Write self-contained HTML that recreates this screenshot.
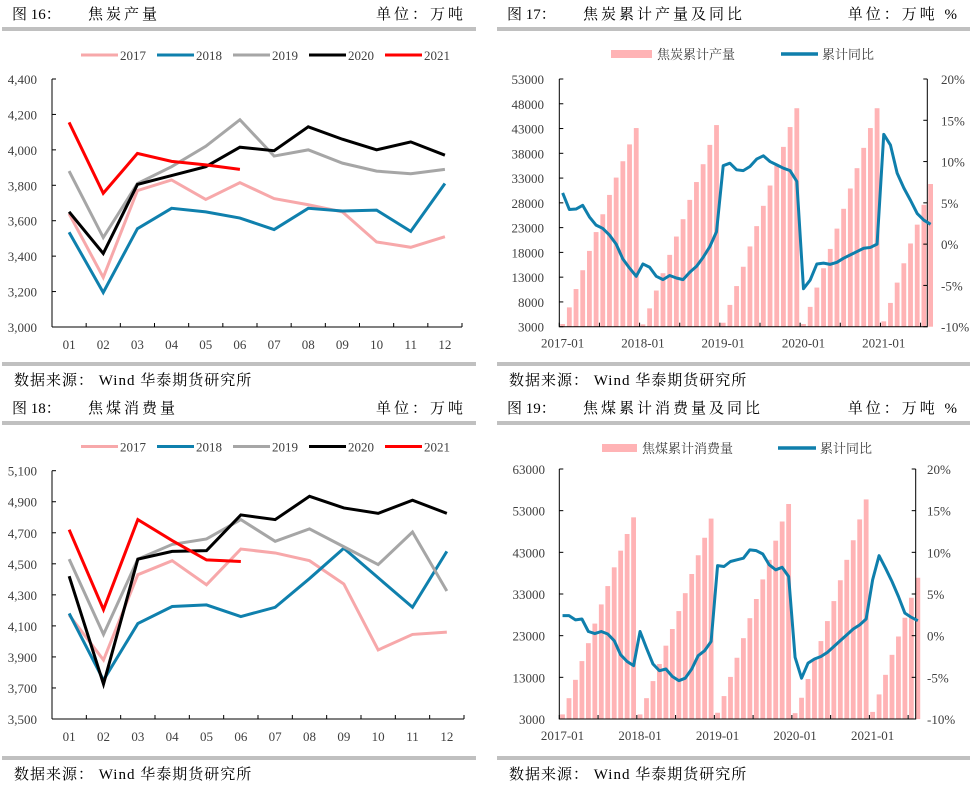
<!DOCTYPE html>
<html><head><meta charset="utf-8"><style>
html,body{margin:0;padding:0;background:#fff;}
svg{display:block;}
text{font-family:"Liberation Serif","Noto Serif CJK SC",serif;}
</style></head><body>
<svg id="s" width="976" height="787" viewBox="0 0 976 787" xmlns="http://www.w3.org/2000/svg"></svg>
<script>
// ===== Data =====
const months=["01","02","03","04","05","06","07","08","09","10","11","12"];
const years=["2017","2018","2019","2020","2021"];
const yearColors=["#f7a8aa","#0f80ad","#a6a6a6","#000000","#ff0000"];
// Chart 16 coke output
const coke2017=[3640,3280,3770,3830,3720,3815,3725,3690,3650,3480,3450,3510];
const coke2018=[3535,3195,3555,3670,3650,3615,3550,3670,3655,3660,3540,3810];
const coke2019=[3880,3505,3810,3905,4020,4170,3965,4000,3925,3880,3865,3890];
const coke2020=[3650,3415,3805,3855,3905,4015,3995,4130,4060,4000,4045,3970];
const coke2021=[4155,3755,3980,3935,3915,3890];
const cokeTicks=[3000,3200,3400,3600,3800,4000,4200,4400];
// Chart 18 coking coal consumption
const coal2017=[4170,3880,4430,4520,4365,4595,4570,4520,4370,3945,4045,4060];
const coal2018=[4180,3750,4115,4225,4235,4160,4220,4405,4600,4410,4220,4580];
const coal2019=[4530,4045,4530,4625,4660,4785,4645,4725,4610,4495,4705,4325];
const coal2020=[4420,3725,4530,4580,4585,4815,4785,4935,4860,4825,4910,4825];
const coal2021=[4720,4205,4785,4650,4525,4515];
const coalTicks=[3500,3700,3900,4100,4300,4500,4700,4900,5100];
// Chart 17 cumulative coke output & yoy
const cokeCum=[3540,6900,10600,14400,18300,22100,25700,29600,33100,36400,39800,43100,
3470,6700,10300,13800,17500,21200,24700,28600,32200,35800,39700,43700,
3800,7400,11200,15100,19200,23300,27400,31500,35500,39300,43300,47100,
3540,7000,10900,14800,18700,22800,26800,30900,35000,39100,43100,47100,
4080,7800,11900,15800,19800,23600,27600,31800];
const cokeYoy=[6.2,4.2,4.25,4.7,3.3,2.3,1.9,1.1,0.0,-1.8,-2.9,-3.9,
-2.4,-2.8,-3.9,-4.3,-3.8,-4.1,-4.3,-3.4,-2.7,-1.6,-0.3,1.5,
9.5,9.8,9.0,8.9,9.4,10.3,10.7,10.0,9.6,9.2,8.9,7.6,
-5.4,-4.35,-2.4,-2.3,-2.45,-2.2,-1.7,-1.3,-0.9,-0.5,-0.4,0.0,
13.3,12.0,8.6,6.8,5.3,3.7,2.9,2.4];
const cokeCumTicks=[3000,8000,13000,18000,23000,28000,33000,38000,43000,48000,53000];
// Chart 19 cumulative coal consumption & yoy
const coalCum=[4100,8000,12400,16900,21200,25900,30500,34900,39400,43400,47400,51400,
4100,8000,12100,16200,20600,24600,28900,33200,37800,42300,46500,51100,
4500,8500,13100,17700,22400,27200,31800,36500,41200,45800,50400,54600,
4400,8100,12600,17200,21700,26500,31300,36300,41200,45900,50900,55700,
4700,8900,13600,18400,22800,27300,32100,36900];
const coalYoy=[2.4,2.4,1.9,2.0,0.5,0.25,0.5,0.2,-0.6,-2.3,-3.1,-3.6,
0.5,-1.5,-3.4,-4.2,-4.0,-4.9,-5.4,-5.1,-4.0,-2.4,-1.8,-0.7,
8.4,8.3,8.9,9.1,9.3,10.3,10.2,9.8,8.5,7.9,8.2,7.1,
-2.6,-5.1,-3.3,-2.8,-2.5,-2.0,-1.3,-0.6,0.1,0.8,1.3,2.0,
6.7,9.6,8.1,6.5,4.7,2.7,2.2,1.8];
const coalCumTicks=[3000,13000,23000,33000,43000,53000,63000];
const pctTicks=[-10,-5,0,5,10,15,20];
const dateLabels=["2017-01","2018-01","2019-01","2020-01","2021-01"];

const S=document.getElementById('s');
const NS="http://www.w3.org/2000/svg";
function mk(tag,attrs,parent){const e=document.createElementNS(NS,tag);for(const k in attrs)e.setAttribute(k,attrs[k]);(parent||S).appendChild(e);return e;}
function txt(x,y,str,size,anchor,fill,parent){const t=mk('text',{x:x,y:y,'font-size':size,'text-anchor':anchor||'start',fill:fill||'#333'},parent);t.textContent=str;return t;}
function fmt(v){return v.toLocaleString('en-US');}

// ===== Frames =====
function frame(x0,x1,yTop,title,sub,unit){
  const g=mk('g',{});
  
  
  const t=txt(x0+12,yTop+19,title,15,'start','#000',g);
  
  const t2=txt(x0+88,yTop+19,sub,15,'start','#000',g);
  t2.setAttribute('letter-spacing','3');
  
  const t3=txt(x1-12,yTop+19,unit,15,'end','#000',g);
  t3.setAttribute('letter-spacing','3');
  
  const b1=mk('rect',{x:x0+2,y:yTop+27,width:x1-x0-4,height:4,fill:'#c0c0c0'},g);
  
  const b2=mk('rect',{x:x0+2,y:yTop+362,width:x1-x0-4,height:4,fill:'#c0c0c0'},g);
  
  const src=txt(x0+14,yTop+385,'数据来源： Wind   华泰期货研究所',15,'start','#000',g);
  src.setAttribute('xml:space','preserve');
  src.setAttribute('letter-spacing','1');
  
  return g;
}
frame(0,478,0,'图 16：','焦炭产量','单位：万吨');
frame(495,972,0,'图 17：','焦炭累计产量及同比','单位：万吨 %');
frame(0,478,394,'图 18：','焦煤消费量','单位：万吨');
frame(495,972,394,'图 19：','焦煤累计消费量及同比','单位：万吨 %');

// ===== Monthly line charts =====
function lineChart(cfg){
  const g=mk('g',{});
  
  
  const {x0,x1,yT,yB,vMin,vMax}=cfg;
  const bw=(x1-x0)/12;
  const X=i=>x0+bw*(i+0.5);
  const Y=v=>yB-(v-vMin)/(vMax-vMin)*(yB-yT);
  const ya=mk('line',{x1:x0,y1:yT,x2:x0,y2:yB,stroke:'#000','stroke-width':1},g);
  
  const xa=mk('line',{x1:x0,y1:yB,x2:x1,y2:yB,stroke:'#000','stroke-width':1},g);
  
  cfg.ticks.forEach(v=>{
    mk('line',{x1:x0,y1:Y(v),x2:x0+4,y2:Y(v),stroke:'#000'},g);
    const t=txt(37,Y(v)+5,fmt(v),13,'end','#404040',g);
    
  });
  for(let i=1;i<=12;i++){mk('line',{x1:x0+bw*i,y1:yB,x2:x0+bw*i,y2:yB-4,stroke:'#000'},g);}
  months.forEach((m,i)=>{
    const t=txt(X(i),yB+22,m,13,'middle','#404040',g);
    
  });
  cfg.series.forEach((arr,k)=>{
    const p=mk('polyline',{points:arr.map((v,i)=>X(i)+','+Y(v)).join(' '),fill:'none',stroke:yearColors[k],'stroke-width':3,'stroke-linejoin':'miter'},g);
    
  });
  const lx=[81,157,233,309,385];
  years.forEach((yr,k)=>{
    const l=mk('line',{x1:lx[k],y1:cfg.legY,x2:lx[k]+37,y2:cfg.legY,stroke:yearColors[k],'stroke-width':3},g);
    
    const t=txt(lx[k]+39,cfg.legY+5,yr,13,'start','#404040',g);
    
  });
}
lineChart({name:'coke-output-chart',x0:52,x1:462,yT:79,yB:327,vMin:3000,vMax:4400,ticks:cokeTicks,
  series:[coke2017,coke2018,coke2019,coke2020,coke2021],legY:55});
lineChart({name:'coal-consumption-chart',x0:52,x1:464,yT:470.7,yB:719,vMin:3500,vMax:5100,ticks:coalTicks,
  series:[coal2017,coal2018,coal2019,coal2020,coal2021],legY:446.5});

// ===== Cumulative bar + yoy =====
function comboChart(cfg){
  const g=mk('g',{});
  
  
  const {x0,x1,yT,yB,vMin,vMax,step}=cfg;
  const X=i=>x0+step*(i+0.5);
  const Y=v=>yB-(v-vMin)/(vMax-vMin)*(yB-yT);
  const P=v=>yB-(v+10)/30*(yB-yT);
  cfg.bars.forEach((v,i)=>{
    const r=mk('rect',{x:X(i)-2.4,y:Y(v),width:4.8,height:yB-Y(v),fill:'#ffb3b5'},g);
    
  });
  const ax=mk('path',{d:`M${x0},${yT}V${yB}H${x1}V${yT}`,fill:'none',stroke:'#000','stroke-width':1},g);
  
  cfg.ticks.forEach(v=>{
    mk('line',{x1:x0,y1:Y(v),x2:x0+4,y2:Y(v),stroke:'#000'},g);
    const t=txt(cfg.lx,Y(v)+5,String(v),13,'end','#404040',g);
    
  });
  pctTicks.forEach(v=>{
    mk('line',{x1:x1,y1:P(v),x2:x1-4,y2:P(v),stroke:'#000'},g);
    const t=txt(cfg.rx,P(v)+5,v+'%',13,'start','#404040',g);
    
  });
  for(let i=0;i*6*step<=x1-x0+1;i++){mk('line',{x1:x0+i*6*step,y1:yB,x2:x0+i*6*step,y2:yB-4,stroke:'#000'},g);}
  dateLabels.forEach((d,k)=>{
    const t=txt(X(k*12),yB+21,d,13,'middle','#404040',g);
    
  });
  const p=mk('polyline',{points:cfg.yoy.map((v,i)=>X(i)+','+P(v)).join(' '),fill:'none',stroke:'#0f7fac','stroke-width':3,'stroke-linejoin':'round'},g);
  
  const sw=mk('rect',{x:cfg.leg[0],y:cfg.legY-4,width:cfg.leg[1]-cfg.leg[0],height:8,fill:'#ffb3b5'},g);
  
  const t1=txt(cfg.leg[1]+5,cfg.legY+5,cfg.barLabel,13,'start','#404040',g);
  
  const sl=mk('line',{x1:cfg.leg[2],y1:cfg.legY,x2:cfg.leg[3],y2:cfg.legY,stroke:'#0f7fac','stroke-width':3.5},g);
  
  const t2=txt(cfg.leg[3]+4,cfg.legY+5,'累计同比',13,'start','#404040',g);
  
}
comboChart({name:'coke-cumulative-chart',x0:559.3,x1:927.3,yT:79,yB:326.7,vMin:3000,vMax:53000,step:6.69,
  bars:cokeCum,yoy:cokeYoy,ticks:cokeCumTicks,lx:544,rx:941,leg:[611,652,781,818],legY:54,barLabel:'焦炭累计产量'});
comboChart({name:'coal-cumulative-chart',x0:559.3,x1:915.7,yT:469,yB:719,vMin:3000,vMax:63000,step:6.46,
  bars:coalCum,yoy:coalYoy,ticks:coalCumTicks,lx:545,rx:927,leg:[602,637,778,816],legY:448,barLabel:'焦煤累计消费量'});
</script>
</body></html>
